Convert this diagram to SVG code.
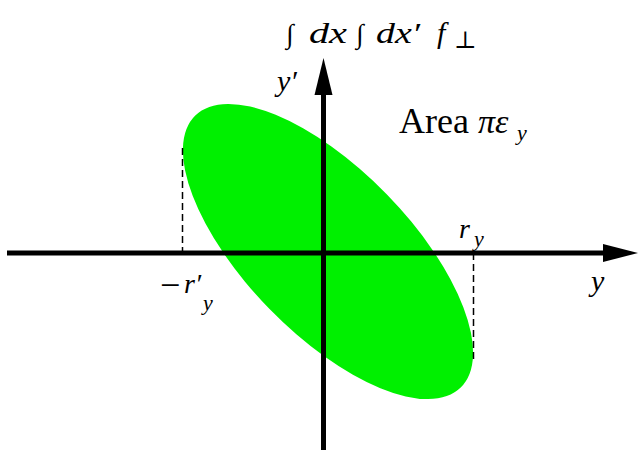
<svg xmlns="http://www.w3.org/2000/svg" width="642" height="450" viewBox="0 0 642 450">
<style>
.ax{stroke:#000;stroke-width:5;fill:none}
.dash{stroke:#000;stroke-width:1.5;stroke-dasharray:7 4;fill:none}
.m{font-family:"Liberation Serif","DejaVu Serif",serif;font-style:italic;fill:#000}
.r{font-family:"Liberation Serif","DejaVu Serif",serif;fill:#000}
</style>
<rect width="642" height="450" fill="#fff"/>
<g id="ellipse">
<ellipse cx="0" cy="0" rx="190" ry="82" fill="#00f000" transform="translate(328 251.5) rotate(45.7)"/>
</g>
<g id="connectors">
<line class="dash" x1="182.5" y1="148" x2="182.5" y2="253"/>
<line class="dash" x1="473.5" y1="253" x2="473.5" y2="363"/>
<line class="ax" x1="7" y1="253" x2="608" y2="253"/>
<polygon points="603,244 638,253 603,262" fill="#000"/>
<line class="ax" x1="323.5" y1="450" x2="323.5" y2="90"/>
<polygon points="314.5,95 323.5,58 332.5,95" fill="#000"/>
</g>
<g id="labels">
<text class="r" x="286" y="43" font-size="27">∫</text>
<text class="m" x="309" y="43" font-size="30" textLength="38" lengthAdjust="spacingAndGlyphs">dx</text>
<text class="r" x="356" y="43" font-size="27">∫</text>
<text class="m" x="376" y="43" font-size="30" textLength="44" lengthAdjust="spacingAndGlyphs">dx′</text>
<text class="m" x="437" y="43" font-size="30">f</text>
<text class="r" x="454" y="48" font-size="24">⊥</text>
<text class="m" x="277" y="91" font-size="30">y′</text>
<text class="r" x="399" y="133" font-size="36">Area</text>
<text class="m" x="478" y="133" font-size="34">πε</text>
<text class="m" x="517" y="140" font-size="22">y</text>
<text class="m" x="459" y="238" font-size="28">r</text>
<text class="m" x="474" y="246" font-size="22">y</text>
<text class="r" x="160" y="297" font-size="36">−</text>
<text class="m" x="184" y="293" font-size="28">r′</text>
<text class="m" x="203" y="310" font-size="22">y</text>
<text class="m" x="591" y="291" font-size="30">y</text>
</g>
</svg>
